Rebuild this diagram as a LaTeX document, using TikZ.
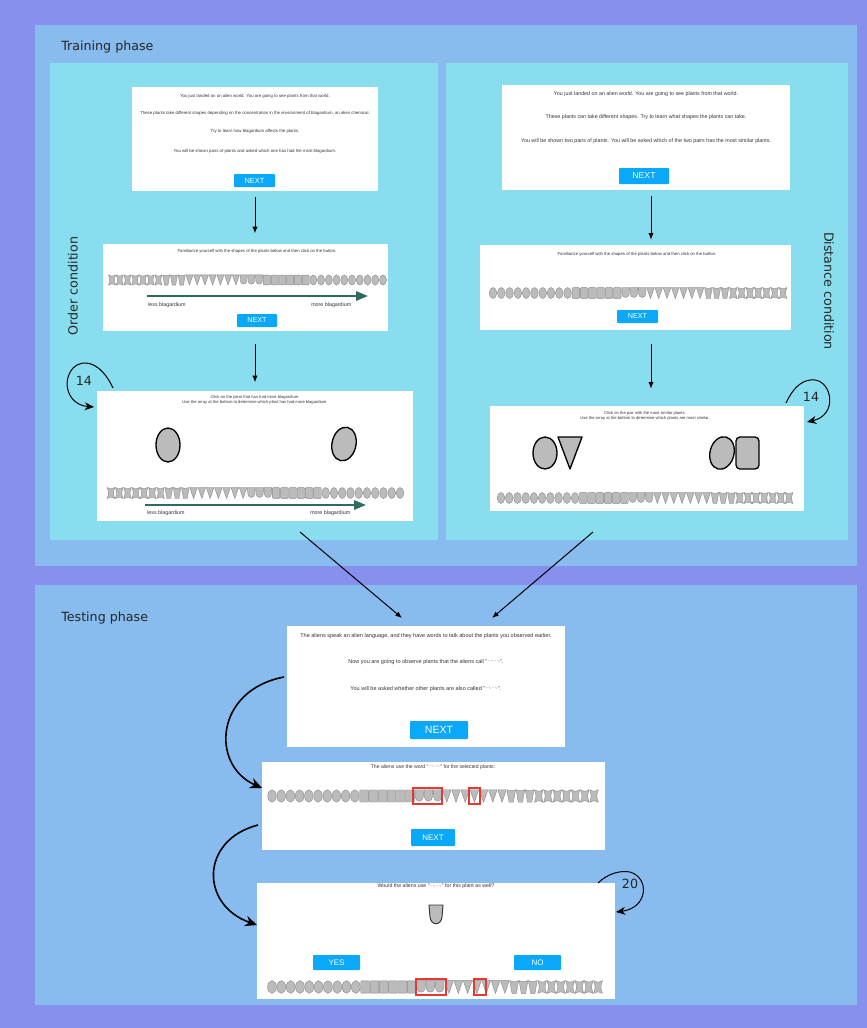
\documentclass[tikz,border=0pt]{standalone}
\usepackage{fontspec}
\setmainfont{Liberation Sans}
\newfontfamily\labelfont{DejaVu Sans}
\usetikzlibrary{arrows.meta,calc,fit}

\definecolor{outerbg}{HTML}{8890EE}
\definecolor{phasebg}{HTML}{88BBEE}
\definecolor{condbg}{HTML}{88DDEE}
\definecolor{btn}{HTML}{0AA8F8}
\definecolor{plantfill}{HTML}{BBBBBB}
\definecolor{plantedge}{HTML}{8A8A8A}
\definecolor{scaleg}{HTML}{2E6B5C}
\definecolor{selred}{HTML}{E53A33}

% word of the alien language, drawn as a small grey scribble
\newcommand\alienword{{\labelfont\color{black!40}\raisebox{0.2ex}{\scalebox{0.7}{∼∿∽∿}}}}

% a row of 36 plants, morphing from ellipses to crossed shapes
% #1 first x, #2 last x, #3 y, #4 scale, #5 = 1 when the ellipses come first
\newcommand\plantrow[5]{%
  \foreach \i in {0,...,35}{%
    \pgfmathsetmacro\plx{#1+(#2-#1)*\i/35}%
    \pgfmathtruncatemacro\pk{#5*\i+(1-#5)*(35-\i)}%
    \ifnum\pk<10 \pic[scale=#4] at (\plx,#3) {ellplant};%
    \else\ifnum\pk<16 \pic[scale=#4] at (\plx,#3) {sqplant};%
    \else\ifnum\pk<19 \pic[scale=#4] at (\plx,#3) {shieldplant};%
    \else\ifnum\pk<26 \pic[scale=#4] at (\plx,#3) {triplant};%
    \else\ifnum\pk<29 \pic[scale=#4] at (\plx,#3) {cupplant};%
    \else \pic[scale=#4] at (\plx,#3) {crossplant};%
    \fi\fi\fi\fi\fi
  }%
}

\tikzset{
  plant/.style={fill=plantfill, draw=plantedge, line width=0.3pt},
  pics/ellplant/.style={code={\path[plant] (0,0) ellipse [x radius=1, y radius=1.45];}},
  pics/sqplant/.style={code={\path[plant, rounded corners=0.6pt] (-1,-1.4) rectangle (1,1.4);}},
  pics/shieldplant/.style={code={\path[plant] (-1,-1.45) -- (1,-1.45) -- (0.95,0.2) .. controls (0.85,1.5) and (-0.85,1.5) .. (-0.95,0.2) -- cycle;}},
  pics/triplant/.style={code={\path[plant] (-1,-1.45) -- (1,-1.45) -- (0,1.45) -- cycle;}},
  pics/cupplant/.style={code={\path[plant] (-1,-1.45) .. controls (0,-1.15) .. (1,-1.45) .. controls (0.75,0) .. (0.5,1.45) -- (-0.5,1.45) .. controls (-0.75,0) .. (-1,-1.45) -- cycle;}},
  pics/crossplant/.style={code={\path[plant] (-1,-1.45) .. controls (0,-1) .. (1,-1.45) .. controls (0.55,0) .. (1,1.45) .. controls (0,1) .. (-1,1.45) .. controls (-0.55,0) .. (-1,-1.45) -- cycle;}},
}

\begin{document}
\begin{tikzpicture}[x=0.75pt,y=-0.75pt,
  panel/.style={fill=#1, draw=none, inner sep=0pt, outer sep=0pt},
  screen/.style={fill=white, draw=none, inner sep=0pt, outer sep=0pt},
  button/.style={fill=btn, draw=none, inner sep=0pt, outer sep=0pt, rounded corners=0.6pt},
  btntext/.style={text=white, inner sep=0pt, font=\fontsize{#1}{#1}\selectfont},
  scrtext/.style={text=black!80, inner sep=0pt, font=\fontsize{#1}{#1}\selectfont},
  heading/.style={font=\labelfont\fontsize{9.5}{11}\selectfont, text=black!85, inner sep=0pt},
  countlbl/.style={font=\labelfont\fontsize{9.5}{11}\selectfont, text=black!85, inner sep=0pt},
  flow/.style={-{Latex[length=5pt,width=4pt]}, line width=0.75pt},
  repeatloop/.style={-{Stealth[length=7pt,width=6pt]}, line width=0.75pt},
  stepflow/.style={-{Stealth[length=9pt,width=8pt]}, line width=1.2pt},
  bigplant/.style={fill=plantfill, draw=black, line width=1pt},
  scalearrow/.style={draw=scaleg, line width=1.6pt, -{Triangle[length=9pt,width=7pt]}},
  selbox/.style={draw=selred, line width=0.8pt},
]
\useasboundingbox (0,0) rectangle (867,1028);
\fill[outerbg] (0,0) rectangle (867,1028);

% ---------- phases and conditions ----------
\node[panel=phasebg, fit={(35,25) (857,566)}] (train) {};
\node[panel=phasebg, fit={(35,585) (857,1005)}] (test) {};
\node[panel=condbg, fit={(50,63) (438,540)}] (order) {};
\node[panel=condbg, fit={(446,63) (848,540)}] (dist) {};

\node[heading, anchor=west] (trainlbl) at (61,47) {Training phase};
\node[heading, anchor=west] (testlbl) at (61,618) {Testing phase};
\node[heading, rotate=90] (orderlbl) at (73,286) {Order condition};
\node[heading, rotate=-90] (distlbl) at (829,291) {Distance condition};

% ---------- order condition ----------
\node[screen, fit={(132,87) (378,191)}] (L1) {};
\node[scrtext=3.25] (L1a) at (255,96) {You just landed on an alien world. You are going to see plants from that world.};
\node[scrtext=3.25] (L1b) at (255,113) {These plants take different shapes depending on the concentration in the environment of blagardium, an alien chemical.};
\node[scrtext=3.25] (L1c) at (255,131) {Try to learn how blagardium affects the plants.};
\node[scrtext=3.25] (L1d) at (255,151) {You will be shown pairs of plants and asked which one has had the most blagardium.};
\node[button, fit={(234,174) (275,187)}] (L1btn) {};
\node[btntext=5.6] (L1btnlbl) at (L1btn.center) {NEXT};

\node[screen, fit={(103,244) (388,331)}] (L2) {};
\node[scrtext=3.2] (L2a) at (257,251) {Familiarize yourself with the shapes of the plants below and then click on the button.};
\plantrow{112}{383}{280}{3.5}{0}
\draw[scalearrow] (147,296) -- (368,296);
\node[scrtext=4, anchor=west] (L2less) at (148,305) {less blagardium};
\node[scrtext=4, anchor=west] (L2more) at (311,305) {more blagardium};
\node[button, fit={(237,314) (277,327)}] (L2btn) {};
\node[btntext=5.4] (L2btnlbl) at (L2btn.center) {NEXT};

\node[screen, fit={(97,391) (413,521)}] (L3) {};
\node[scrtext=3.1] (L3a) at (255,397) {Click on the plant that has had more blagardium.};
\node[scrtext=3.1] (L3b) at (255,402.5) {Use the array at the bottom to determine which plant has had more blagardium.};
\path[bigplant] (168,445) ellipse [x radius=12, y radius=17];
\path[bigplant, rotate around={-12:(344,444)}] (344,444) ellipse [x radius=12, y radius=17];
\plantrow{111}{400}{493}{3.8}{0}
\draw[scalearrow] (145,505) -- (366,505);
\node[scrtext=4, anchor=west] (L3less) at (147,513) {less blagardium};
\node[scrtext=4, anchor=west] (L3more) at (310,513) {more blagardium};

\draw[flow, shorten <=4.5pt, shorten >=8pt] (L1.south) -- (L1.south |- L2.north);
\draw[flow, shorten <=9.5pt, shorten >=6.5pt] (L1.south |- L2.south) -- (L1.south |- L3.north);
\draw[repeatloop] ($(L3.north west)+(16,-3)$) .. controls (101,362) and (83,358) .. (73,368)
  .. controls (61,382) and (68,405) .. ($(L3.north west)+(-3,16)$);
\node[countlbl] (L3count) at (84,381) {14};

% ---------- distance condition ----------
\node[screen, fit={(502,85) (790,190)}] (R1) {};
\node[scrtext=4] (R1a) at (646,94) {You just landed on an alien world. You are going to see plants from that world.};
\node[scrtext=4] (R1b) at (646,117) {These plants can take different shapes. Try to learn what shapes the plants can take.};
\node[scrtext=4] (R1c) at (646,141) {You will be shown two pairs of plants. You will be asked which of the two pairs has the most similar plants.};
\node[button, fit={(619,168) (669,184)}] (R1btn) {};
\node[btntext=6.5] (R1btnlbl) at (R1btn.center) {NEXT};

\node[screen, fit={(480,245) (791,330)}] (R2) {};
\node[scrtext=3.2] (R2a) at (637,254) {Familiarize yourself with the shapes of the plants below and then click on the button.};
\plantrow{493}{783}{293}{3.8}{1}
\node[button, fit={(617,310) (658,323)}] (R2btn) {};
\node[btntext=5.4] (R2btnlbl) at (R2btn.center) {NEXT};

\node[screen, fit={(490,406) (804,511)}] (R3) {};
\node[scrtext=3.1] (R3a) at (645,413) {Click on the pair with the most similar plants.};
\node[scrtext=3.1] (R3b) at (645,418.5) {Use the array at the bottom to determine which plants are most similar.};
\path[bigplant] (545,453) ellipse [x radius=12, y radius=16];
\path[bigplant, line join=round] (558,437) -- (582,437) -- (570,469) -- cycle;
\path[bigplant, rotate around={-14:(722,453)}] (722,453) ellipse [x radius=12, y radius=16.5];
\path[bigplant, rounded corners=3pt] (736,437) rectangle (759,469);
\plantrow{501}{789}{498}{3.8}{1}

\draw[flow, shorten <=4.5pt, shorten >=4pt] (R1.south -| 651,0) -- (651,0 |- R2.north);
\draw[flow, shorten <=10.5pt, shorten >=13pt] (R2.south -| 651,0) -- (651,0 |- R3.north);
\draw[repeatloop] ($(R3.north east)+(-18,-3)$) .. controls (795,384) and (805,379) .. (815,380)
  .. controls (832,382) and (838,415) .. ($(R3.north east)+(3,16)$);
\node[countlbl] (R3count) at (811,397) {14};

% ---------- testing phase ----------
\node[screen, fit={(287,626) (565,747)}] (T1) {};
\node[scrtext=4.15] (T1a) at (426,636) {The aliens speak an alien language, and they have words to talk about the plants you observed earlier.};
\node[scrtext=4.15] (T1b) at (426,662) {Now you are going to observe plants that the aliens call "\alienword".};
\node[scrtext=4.15] (T1c) at (426,689) {You will be asked whether other plants are also called "\alienword".};
\node[button, fit={(410,721) (468,739)}] (T1btn) {};
\node[btntext=7.9] (T1btnlbl) at (T1btn.center) {NEXT};

\node[screen, fit={(262,762) (605,850)}] (T2) {};
\node[scrtext=3.85] (T2a) at (433,767) {The aliens use the word "\alienword" for the selected plants:};
\plantrow{272}{594}{796}{4.3}{1}
\draw[selbox] (413,788) rectangle (442,804);
\draw[selbox] (469,788) rectangle (480,804);
\node[button, fit={(411,829) (455,846)}] (T2btn) {};
\node[btntext=6] (T2btnlbl) at (T2btn.center) {NEXT};

\node[screen, fit={(257,883) (615,999)}] (T3) {};
\node[scrtext=3.95] (T3a) at (436,886.5) {Would the aliens use "\alienword" for this plant as well?};
\path[fill=plantfill, draw=black!80, line width=0.7pt] (429,905) -- (443,905) -- (442,917)
  .. controls (441,926) and (431,926) .. (430,917) -- cycle;
\node[button, fit={(313,955) (360,970)}] (T3yes) {};
\node[btntext=6] (T3yeslbl) at (T3yes.center) {YES};
\node[button, fit={(514,955) (561,970)}] (T3no) {};
\node[btntext=6] (T3nolbl) at (T3no.center) {NO};
\plantrow{272}{598}{987}{4.4}{1}
\draw[selbox] (416,979) rectangle (446,995);
\draw[selbox] (474,979) rectangle (486,995);

% ---------- connections ----------
\draw[flow] ($(L3.south)+(45,11)$) -- ($(T1.north west)+(115,-8)$);
\draw[flow] ($(R3.south)+(-54,21)$) -- ($(T1.north west)+(205,-8)$);
\draw[stepflow] ($(T1.north west)+(-3,51)$) .. controls (215,690) and (210,765) .. ($(T2.north west)+(0,26)$);
\draw[stepflow] ($(T2.north west)+(-4,63)$) .. controls (200,840) and (200,905) .. ($(T3.north west)+(0,42)$);
\draw[repeatloop] ($(T3.north east)+(-17,0)$) .. controls (607,874) and (620,870) .. (630,872)
  .. controls (650,878) and (648,908) .. ($(T3.north east)+(1,29)$);
\node[countlbl] (T3count) at (630,884) {20};
\end{tikzpicture}
\end{document}
